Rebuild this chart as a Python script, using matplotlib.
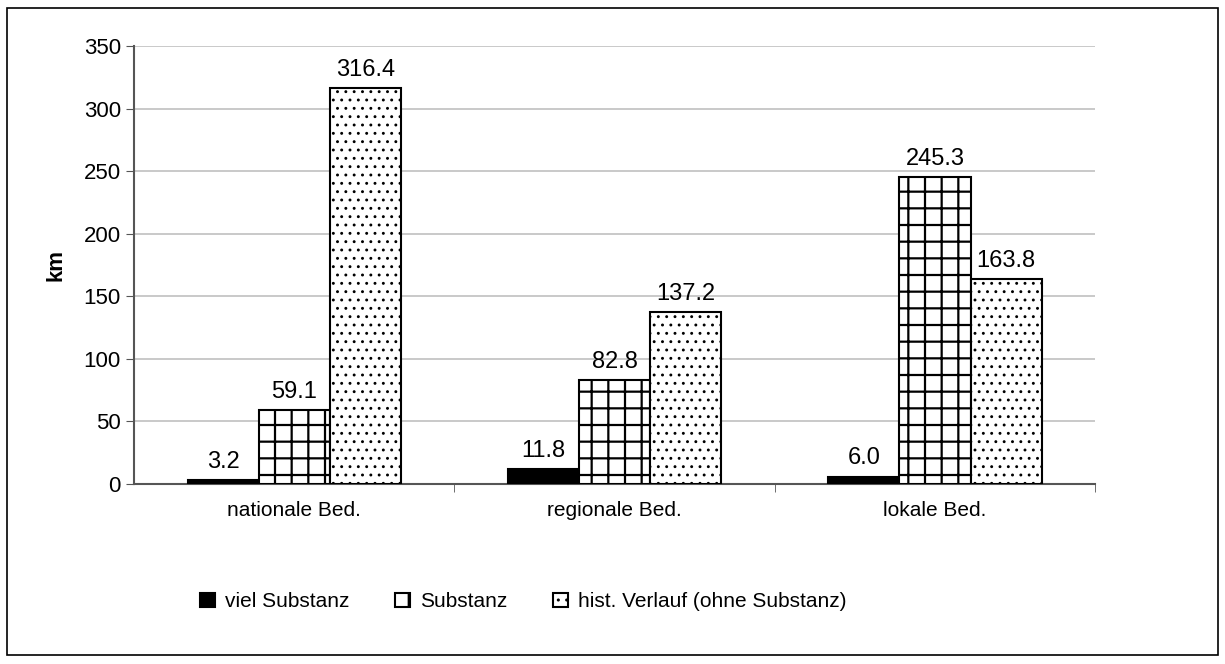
import numpy as np
import matplotlib.pyplot as plt
from matplotlib.patches import Rectangle

# Daten
kategorien = ['nationale Bed.', 'regionale Bed.', 'lokale Bed.']
viel_substanz = [3.2, 11.8, 6.0]
substanz = [59.1, 82.8, 245.3]
hist_verlauf = [316.4, 137.2, 163.8]
serien = ['viel Substanz', 'Substanz', 'hist. Verlauf (ohne Substanz)']

plt.rcParams['font.family'] = ['Liberation Sans', 'DejaVu Sans']

fig = plt.figure(figsize=(12.25, 6.64), dpi=100)
ax = fig.add_axes([0.1094, 0.271, 0.7846, 0.6597])

x = np.arange(len(kategorien))
b = 0.222
werte = [viel_substanz, substanz, hist_verlauf]
hatches = [None, '+', '..']
hatch_lw = [1.0, 1.6, 0.9]
farben = ['black', 'white', 'white']

for i, (w, h, f, lab) in enumerate(zip(werte, hatches, farben, serien)):
    with plt.rc_context({'hatch.linewidth': hatch_lw[i]}):
        bars = ax.bar(x + (i - 1) * b, w, b, color=f, edgecolor='black',
                      linewidth=1.5, hatch=h, label=lab, zorder=3)
    for r, v in zip(bars, w):
        ax.text(r.get_x() + r.get_width() / 2, v + 6, f'{v:.1f}',
                ha='center', va='bottom', fontsize=17)

ax.set_xlim(-0.5, 2.5)
ax.set_ylim(0, 350)
ax.set_yticks(range(0, 351, 50))
ax.set_xticks(x)
ax.set_xticklabels(kategorien)
ax.set_xticks([0.5, 1.5, 2.5], minor=True)
ax.tick_params(axis='x', which='major', length=0, pad=12, labelsize=15)
ax.tick_params(axis='x', which='minor', length=6, color='#555555')
ax.tick_params(axis='y', length=6, color='#555555', labelsize=16)
ax.yaxis.grid(True, color='#c0c0c0', linewidth=1.2, zorder=0)
ax.set_axisbelow(True)
for s in ['top', 'right']:
    ax.spines[s].set_visible(False)
ax.spines['left'].set_color('#555555')
ax.spines['bottom'].set_color('#555555')
ax.spines['left'].set_linewidth(1.5)
ax.spines['bottom'].set_linewidth(1.5)
ax.set_ylabel('km', fontsize=16, fontweight='bold', labelpad=12)

fig.legend(loc='center left', bbox_to_anchor=(0.148, 0.094), ncol=3,
           frameon=False, fontsize=15, handlelength=0.7, handleheight=0.7,
           handletextpad=0.5, columnspacing=2.2)

fig.patches.append(Rectangle((7 / 1225, 1 - 655 / 664), 1211 / 1225, 647 / 664,
                             transform=fig.transFigure, fill=False,
                             edgecolor='black', linewidth=1.2))

fig.savefig('out.png', dpi=100)
